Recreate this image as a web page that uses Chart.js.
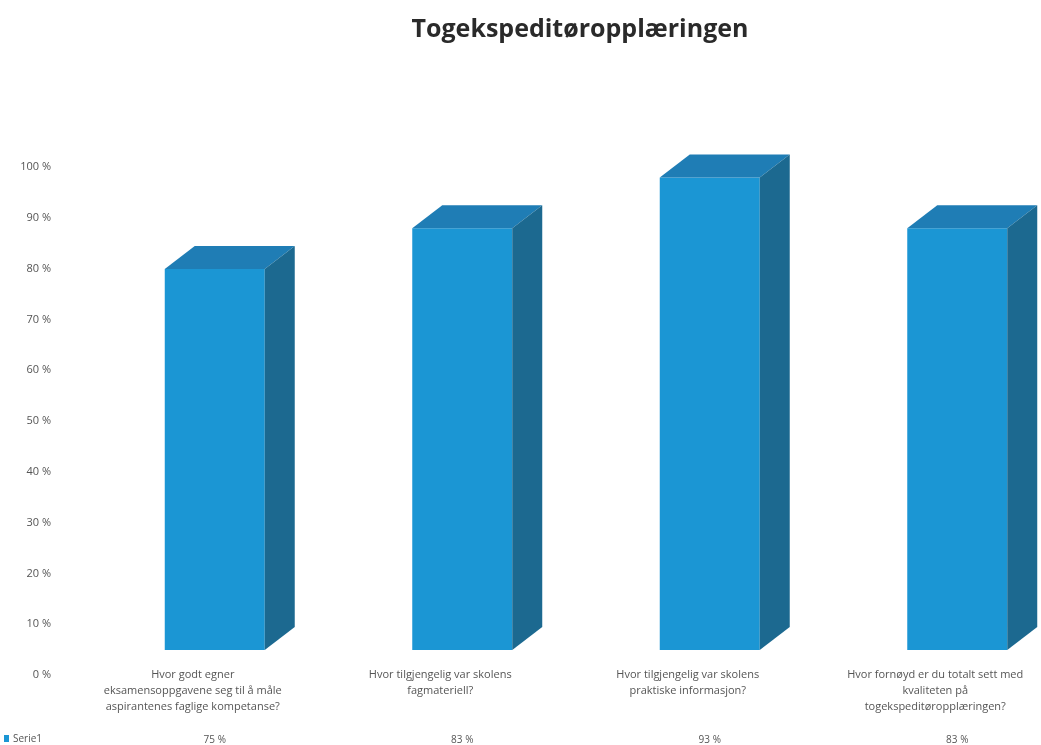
<!DOCTYPE html>
<html>
<head>
<meta charset="utf-8">
<script src="https://cdn.jsdelivr.net/npm/chart.js@4/dist/chart.umd.min.js"></script>
<style>
  html, body { margin: 0; padding: 0; background: #fff; overflow: hidden; }
  /* a bit wider than the window: the last box sits off to the right like in the original */
  #wrap { width: 1081px; height: 745px; position: relative; }
</style>
</head>
<body>
<div id="wrap"><canvas id="myChart"></canvas></div>
<script>
const chartTitle = 'Togekspeditøropplæringen';
const seriesName = 'Serie1';
const categories = [
  ['Hvor godt egner', 'eksamensoppgavene seg til å måle', 'aspirantenes faglige kompetanse?'],
  ['Hvor tilgjengelig var skolens', 'fagmateriell?'],
  ['Hvor tilgjengelig var skolens', 'praktiske informasjon?'],
  ['Hvor fornøyd er du totalt sett med', 'kvaliteten på', 'togekspeditøropplæringen?'],
];
const values = [75, 83, 93, 83];
const yTicks = [0, 10, 20, 30, 40, 50, 60, 70, 80, 90, 100];

const FRONT = '#1b96d4';
const TOP = '#1f7db5';
const SIDE = '#1c6990';
const DX = 30, DY = 23;

// extra faces to get the 3d look
const boxes = {
  id: 'boxes',
  afterDatasetsDraw(chart) {
    const ctx = chart.ctx;
    chart.getDatasetMeta(0).data.forEach(bar => {
      const l = bar.x - bar.width / 2;
      const r = bar.x + bar.width / 2;
      const t = bar.y, b = bar.base;
      ctx.save();
      ctx.fillStyle = TOP;
      ctx.beginPath();
      ctx.moveTo(l, t);
      ctx.lineTo(l + DX, t - DY);
      ctx.lineTo(r + DX, t - DY);
      ctx.lineTo(r, t);
      ctx.closePath();
      ctx.fill();
      ctx.fillStyle = SIDE;
      ctx.beginPath();
      ctx.moveTo(r, t);
      ctx.lineTo(r + DX, t - DY);
      ctx.lineTo(r + DX, b - DY);
      ctx.lineTo(r, b);
      ctx.closePath();
      ctx.fill();
      ctx.restore();
    });
  },
  afterDraw(chart) {
    const ctx = chart.ctx;
    ctx.save();
    ctx.fillStyle = '#2a2a2a';
    ctx.font = 'bold 25px "Open Sans"';
    ctx.textAlign = 'center';
    ctx.textBaseline = 'middle';
    ctx.fillText(chartTitle, 580, 30);
    // legend key of the data table
    ctx.fillStyle = FRONT;
    ctx.fillRect(4, 735, 5, 7);
    ctx.fillStyle = '#555';
    ctx.font = '10px "Open Sans"';
    ctx.textAlign = 'left';
    ctx.fillText(seriesName, 13, 739);
    ctx.restore();
  }
};

const ctx = document.getElementById('myChart').getContext('2d');
const myChart = new Chart(ctx, {
  type: 'bar',
  data: {
    labels: categories,
    datasets: [{
      label: seriesName,
      data: values,
      backgroundColor: FRONT,
      borderWidth: 0,
      barPercentage: 0.404,
      categoryPercentage: 1,
    }],
  },
  options: {
    responsive: true,
    maintainAspectRatio: false,
    animation: false,
    layout: { padding: { top: 142, right: 0, bottom: 0, left: 0 } },
    plugins: {
      legend: { display: false },
      tooltip: { enabled: false },
    },
    scales: {
      x: {
        offset: true,
        grid: { display: false },
        border: { display: false },
        ticks: {
          autoSkip: false,
          maxRotation: 0,
          padding: 9,
          labelOffset: -22,
          color: '#555',
          font: { family: 'Open Sans', size: 11, lineHeight: 1.45 },
        },
        afterFit(scale) { scale.height = 75; },
      },
      x2: {
        type: 'category',
        position: 'bottom',
        offset: true,
        labels: values.map(v => v + ' %'),
        grid: { display: false },
        border: { display: false },
        ticks: {
          padding: 1,
          color: '#555',
          font: { family: 'Open Sans', size: 10 },
        },
        afterFit(scale) { scale.height = 20; },
      },
      y: {
        min: 0,
        max: 100,
        afterBuildTicks(scale) { scale.ticks = yTicks.map(v => ({ value: v })); },
        grid: { display: false, drawTicks: false },
        border: { display: false },
        ticks: {
          padding: 40,
          labelOffset: 25,
          color: '#555',
          font: { family: 'Open Sans', size: 11 },
          callback: v => v + ' %',
        },
        afterFit(scale) { scale.width = 91; },
      },
    },
  },
  plugins: [boxes],
});
</script>
</body>
</html>
